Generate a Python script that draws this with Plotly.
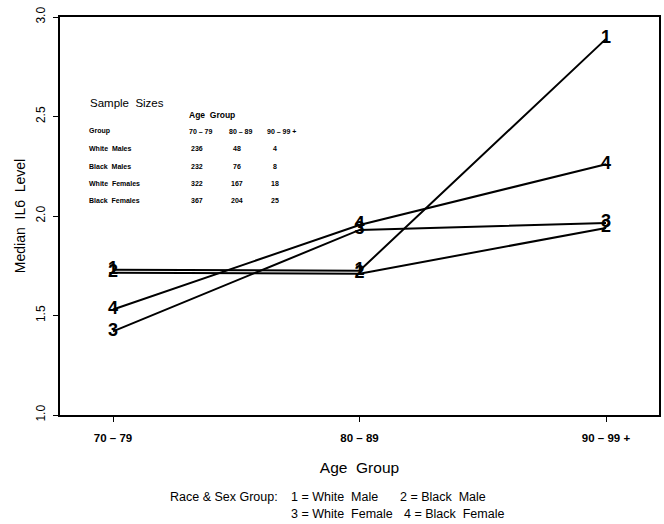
import plotly.graph_objects as go

age_groups = ["70 – 79", "80 – 89", "90 – 99 +"]
series_names = ["White Male", "Black Male", "White Female", "Black Female"]
series_labels = ["1", "2", "3", "4"]
white_male = [1.73, 1.725, 2.89]
black_male = [1.715, 1.71, 1.94]
white_female = [1.42, 1.93, 1.965]
black_female = [1.53, 1.955, 2.26]
series_values = [white_male, black_male, white_female, black_female]

table_cols = ["70 – 79", "80 – 89", "90 – 99 +"]
table_rows = ["White  Males", "Black  Males", "White  Females", "Black  Females"]
table_counts = [[236, 48, 4], [232, 76, 8], [322, 167, 18], [367, 204, 25]]

legend_title = "Race &amp; Sex Group:"
legend_items = ["1 = White  Male", "2 = Black  Male", "3 = White  Female", "4 = Black  Female"]

FONT = "Liberation Sans, Arial, sans-serif"
W, H = 664, 524
L, R, T, B = 60, 5, 17, 109
PW, PH = W - L - R, H - T - B

def px(x):
    return (x - L) / PW

def py(y):
    return (H - B - y) / PH

fig = go.Figure()
xs = [0, 1, 2]
for name, lab, vals in zip(series_names, series_labels, series_values):
    fig.add_trace(go.Scatter(
        x=xs, y=vals, mode="lines+text", name=name,
        text=["<b>" + lab + "</b>"] * len(vals), textposition="middle center",
        textfont=dict(family=FONT, size=18, color="black"),
        line=dict(color="black", width=2),
        showlegend=False, cliponaxis=False, hoverinfo="skip",
    ))

ann = []
small = dict(family=FONT, size=7, color="black")
ann.append(dict(x=px(88), y=py(103), text="Sample  Sizes", showarrow=False,
                xref="paper", yref="paper", xanchor="left", yanchor="middle",
                font=dict(family=FONT, size=11.5, color="black")))
ann.append(dict(x=px(187), y=py(115), text="<b>Age  Group</b>", showarrow=False,
                xref="paper", yref="paper", xanchor="left", yanchor="middle",
                font=dict(family=FONT, size=8.5, color="black")))
col_x = [187, 227, 265]
row_y = [131, 148, 166, 183, 200]
ann.append(dict(x=px(87), y=py(row_y[0]), text="<b>Group</b>", showarrow=False,
                xref="paper", yref="paper", xanchor="left", yanchor="middle", font=small))
for cx, c in zip(col_x, table_cols):
    ann.append(dict(x=px(cx), y=py(row_y[0]), text="<b>" + c + "</b>", showarrow=False,
                    xref="paper", yref="paper", xanchor="left", yanchor="middle", font=small))
for ry, rname, counts in zip(row_y[1:], table_rows, table_counts):
    ann.append(dict(x=px(87), y=py(ry), text="<b>" + rname + "</b>", showarrow=False,
                    xref="paper", yref="paper", xanchor="left", yanchor="middle", font=small))
    for cx, v in zip(col_x, counts):
        ann.append(dict(x=px(cx + 10), y=py(ry), text="<b>" + str(v) + "</b>", showarrow=False,
                        xref="paper", yref="paper", xanchor="center", yanchor="middle", font=small))

legend_font = dict(family=FONT, size=12.5, color="black")
leg_pos = [(289, 497), (398, 497), (289, 514), (402, 514)]
ann.append(dict(x=px(168), y=py(497), text=legend_title, showarrow=False,
                xref="paper", yref="paper", xanchor="left", yanchor="middle", font=legend_font))
for (lx, ly), item in zip(leg_pos, legend_items):
    ann.append(dict(x=px(lx), y=py(ly), text=item, showarrow=False,
                    xref="paper", yref="paper", xanchor="left", yanchor="middle", font=legend_font))

fig.update_layout(
    width=W, height=H,
    margin=dict(l=L, r=R, t=T, b=B, autoexpand=False),
    plot_bgcolor="white", paper_bgcolor="white",
    annotations=ann,
    font=dict(family=FONT, color="black"),
    xaxis=dict(
        range=[-0.215, 2.215], tickmode="array", tickvals=xs,
        ticktext=["<b>" + a + "</b>" for a in age_groups],
        tickfont=dict(family=FONT, size=11.5, color="black"),
        ticks="outside", ticklen=5, tickcolor="black", tickwidth=1,
        ticklabelstandoff=6,
        showline=True, linecolor="black", linewidth=1.5, mirror=True,
        showgrid=False, zeroline=False, automargin=False,
        title=dict(text="Age  Group", font=dict(family=FONT, size=15.5, color="black"), standoff=20),
    ),
    yaxis=dict(
        range=[1.0, 3.0], tickmode="array", tickvals=[1.0, 1.5, 2.0, 2.5, 3.0],
        ticktext=["1.0", "1.5", "2.0", "2.5", "3.0"], tickangle=-90,
        tickfont=dict(family=FONT, size=12, color="black"),
        ticks="outside", ticklen=5, tickcolor="black", tickwidth=1,
        ticklabelstandoff=3,
        showline=True, linecolor="black", linewidth=1.5, mirror=True,
        showgrid=False, zeroline=False, automargin=False,
        title=dict(text="Median  IL6  Level", font=dict(family=FONT, size=14, color="black"), standoff=6),
    ),
)

fig.write_html("out.html", config={"displayModeBar": False},
               post_script="document.body.style.margin='0';document.body.style.overflow='hidden';")
